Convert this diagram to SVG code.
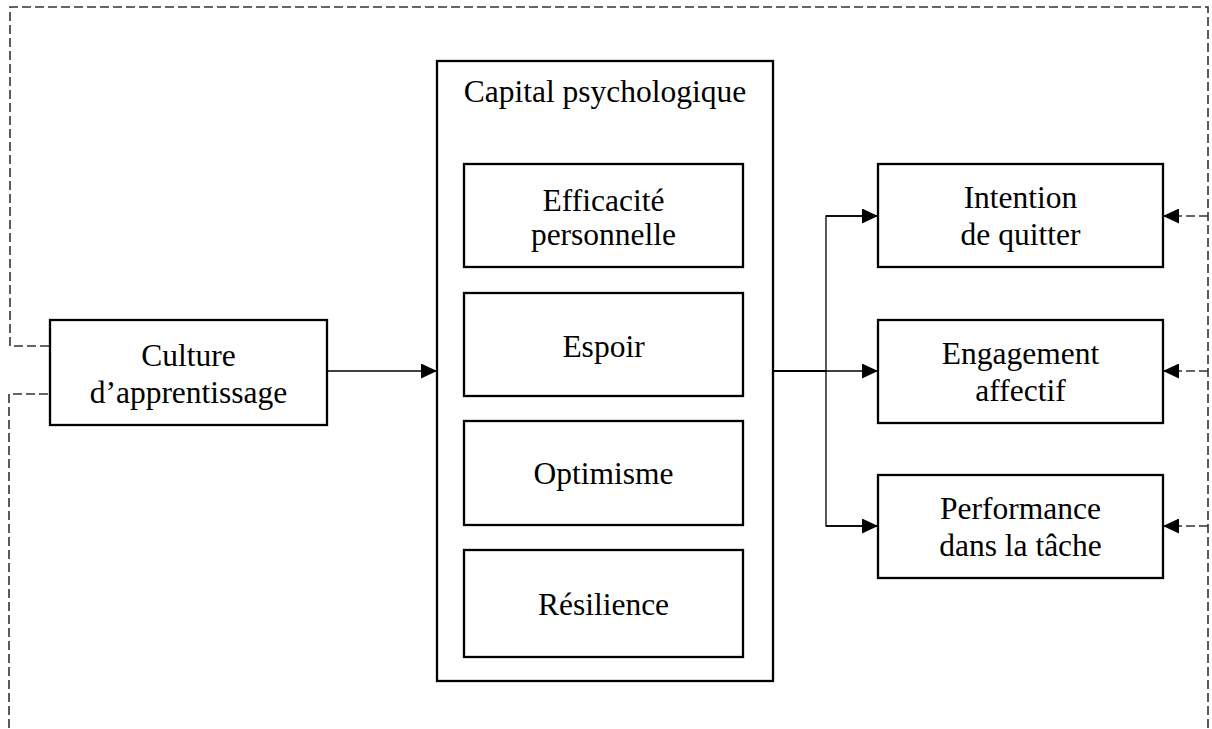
<svg xmlns="http://www.w3.org/2000/svg" width="1212" height="729" viewBox="0 0 1212 729">
<style>
.box{fill:#fff;stroke:#000;stroke-width:2.3}
.t{font-family:"Liberation Serif","Times New Roman",serif;font-size:31.5px;fill:#000;text-anchor:middle}
.ln{fill:none;stroke:#000;stroke-width:1.3}
.thick{fill:none;stroke:#000;stroke-width:2}
.dash{fill:none;stroke:#333;stroke-width:1.6;stroke-dasharray:9 4}
</style>
<defs>
<marker id="ah" viewBox="0 0 16 15" refX="16" refY="7.5" markerWidth="16" markerHeight="15" markerUnits="userSpaceOnUse" orient="auto">
<path d="M0,0 L16,7.5 L0,15 Z" fill="#000"/>
</marker>
</defs>
<g id="connectors">
<path class="dash" d="M49,346 H10 V7 H1208 V729"/>
<path class="dash" d="M48,394 H9 V729"/>
<path class="dash" d="M1208,216 H1163" marker-end="url(#ah)"/>
<path class="dash" d="M1208,371 H1163" marker-end="url(#ah)"/>
<path class="dash" d="M1208,526 H1163" marker-end="url(#ah)"/>
<path class="ln" d="M327,371 H437" marker-end="url(#ah)"/>
<path class="thick" d="M773,371 H826"/>
<path class="ln" d="M826,371 H878" marker-end="url(#ah)"/>
<path class="ln" d="M878,216 H826 V526 H878"/>
<path class="ln" d="M826,216 H878" marker-end="url(#ah)"/>
<path class="ln" d="M826,526 H878" marker-end="url(#ah)"/>
</g>
<g id="culture">
<rect class="box" x="50" y="320" width="277" height="105"/>
<text class="t" x="188.5" y="366">Culture</text>
<text class="t" x="188.5" y="403">d’apprentissage</text>
</g>
<g id="capital">
<rect class="box" x="437" y="61" width="336" height="620"/>
<text class="t" x="605" y="102">Capital psychologique</text>
</g>
<g id="efficacite">
<rect class="box" x="464" y="164" width="279" height="103"/>
<text class="t" x="603.5" y="210.5">Efficacité</text>
<text class="t" x="603.5" y="245">personnelle</text>
</g>
<g id="espoir">
<rect class="box" x="464" y="293" width="279" height="103"/>
<text class="t" x="603.5" y="357">Espoir</text>
</g>
<g id="optimisme">
<rect class="box" x="464" y="421" width="279" height="104"/>
<text class="t" x="603.5" y="484">Optimisme</text>
</g>
<g id="resilience">
<rect class="box" x="464" y="550" width="279" height="107"/>
<text class="t" x="603.5" y="615">Résilience</text>
</g>
<g id="intention">
<rect class="box" x="878" y="164" width="285" height="103"/>
<text class="t" x="1020.5" y="208">Intention</text>
<text class="t" x="1020.5" y="245">de quitter</text>
</g>
<g id="engagement">
<rect class="box" x="878" y="320" width="285" height="103"/>
<text class="t" x="1020.5" y="364">Engagement</text>
<text class="t" x="1020.5" y="401">affectif</text>
</g>
<g id="performance">
<rect class="box" x="878" y="475" width="285" height="103"/>
<text class="t" x="1020.5" y="519">Performance</text>
<text class="t" x="1020.5" y="556">dans la tâche</text>
</g>
</svg>
